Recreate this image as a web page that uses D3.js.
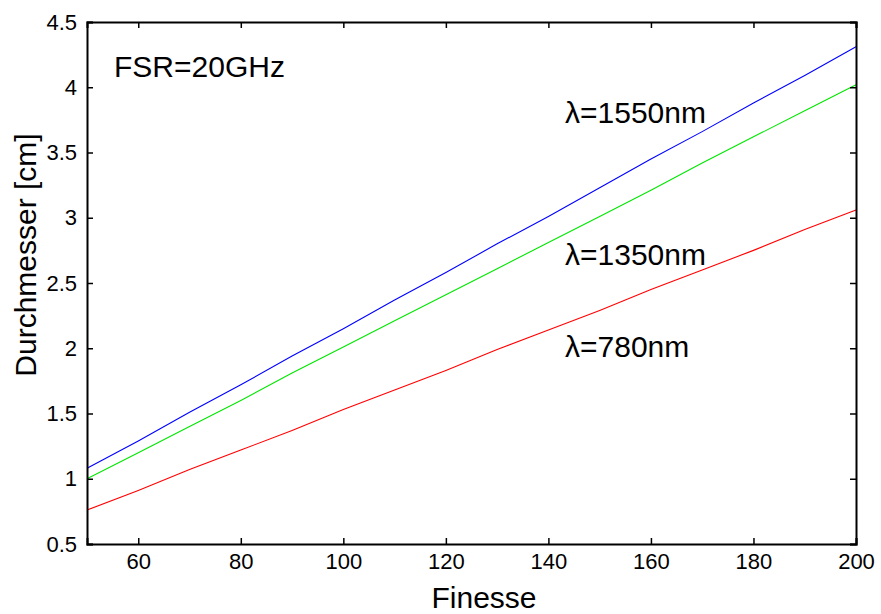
<!DOCTYPE html>
<html>
<head>
<meta charset="utf-8">
<script src="https://cdn.jsdelivr.net/npm/d3@7"></script>
<style>
  body { margin: 0; background: #fff; }
  svg { font-family: "Liberation Sans", Arial, sans-serif; }
</style>
</head>
<body>
<div id="chart"></div>
<script>
// finesse values (x)
const finesse = [50, 60, 70, 80, 90, 100, 110, 120, 130, 140, 150, 160, 170, 180, 190, 200];
// diameter in cm for each wavelength
const d1550 = [1.08, 1.29, 1.51, 1.72, 1.94, 2.15, 2.37, 2.58, 2.80, 3.01, 3.23, 3.45, 3.66, 3.88, 4.09, 4.31];
const d1350 = [1.00, 1.20, 1.40, 1.60, 1.81, 2.01, 2.21, 2.41, 2.61, 2.81, 3.01, 3.21, 3.42, 3.62, 3.82, 4.02];
const d780 = [0.76, 0.91, 1.07, 1.22, 1.37, 1.53, 1.68, 1.83, 1.99, 2.14, 2.29, 2.45, 2.60, 2.75, 2.91, 3.06];

const xTicks = [60, 80, 100, 120, 140, 160, 180, 200];
const yTicks = [0.5, 1, 1.5, 2, 2.5, 3, 3.5, 4, 4.5];

const series = [
  { name: "λ=1550nm", values: d1550, color: "#0000ff" },
  { name: "λ=1350nm", values: d1350, color: "#00e600" },
  { name: "λ=780nm", values: d780, color: "#ff0000" }
];

const width = 881, height = 614;
const margin = { top: 22, right: 25, bottom: 70, left: 87 };

const svg = d3.select("#chart").append("svg")
  .attr("width", width)
  .attr("height", height);

const x = d3.scaleLinear().domain([50, 200]).range([margin.left, width - margin.right]);
const y = d3.scaleLinear().domain([0.5, 4.5]).range([height - margin.bottom, margin.top]);

const tickLen = 6;

// lines
const line = d3.line()
  .x((d, i) => x(finesse[i]))
  .y(d => y(d));

svg.append("g")
  .selectAll("path")
  .data(series)
  .enter()
  .append("path")
  .attr("d", d => line(d.values))
  .attr("fill", "none")
  .attr("stroke", d => d.color)
  .attr("stroke-width", 1.1);

// bottom axis with inward ticks
const xAxis = svg.append("g")
  .attr("transform", "translate(0," + y(0.5) + ")")
  .call(d3.axisBottom(x).tickValues(xTicks).tickSize(-tickLen).tickPadding(9).tickFormat(d3.format("d")));
xAxis.selectAll("text").style("font-size", "22px").attr("fill", "#000");

// top axis ticks only
svg.append("g")
  .attr("transform", "translate(0," + y(4.5) + ")")
  .call(d3.axisTop(x).tickValues(xTicks).tickSize(-tickLen).tickFormat(""));

// left axis
const yAxis = svg.append("g")
  .attr("transform", "translate(" + x(50) + ",0)")
  .call(d3.axisLeft(y).tickValues(yTicks).tickSize(-tickLen).tickPadding(10).tickFormat(d => d));
yAxis.selectAll("text").style("font-size", "22px").attr("fill", "#000");

// right axis ticks only
svg.append("g")
  .attr("transform", "translate(" + x(200) + ",0)")
  .call(d3.axisRight(y).tickValues(yTicks).tickSize(-tickLen).tickFormat(""));

svg.selectAll(".domain").attr("stroke", "#000").attr("stroke-width", 2);
svg.selectAll(".tick line").attr("stroke", "#000").attr("stroke-width", 1.5);

// axis titles
svg.append("text")
  .attr("x", 484)
  .attr("y", 608)
  .attr("text-anchor", "middle")
  .style("font-size", "30px")
  .text("Finesse");

svg.append("text")
  .attr("transform", "translate(36,255) rotate(-90)")
  .attr("text-anchor", "middle")
  .style("font-size", "30px")
  .text("Durchmesser [cm]");

// annotations
svg.append("text")
  .attr("x", 114)
  .attr("y", 77)
  .style("font-size", "30px")
  .text("FSR=20GHz");

const labelPos = [[565, 123], [565, 265], [565, 357]];
svg.append("g")
  .selectAll("text")
  .data(series)
  .enter()
  .append("text")
  .attr("x", (d, i) => labelPos[i][0])
  .attr("y", (d, i) => labelPos[i][1])
  .style("font-size", "30px")
  .text(d => d.name);
</script>
</body>
</html>
